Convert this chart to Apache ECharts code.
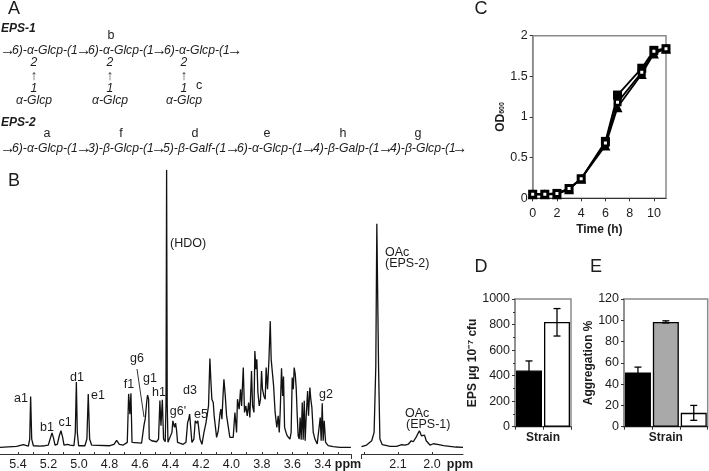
<!DOCTYPE html>
<html><head><meta charset="utf-8">
<style>html,body{margin:0;padding:0;background:#fff}#c{width:709px;height:471px}</style>
<script src="https://cdn.jsdelivr.net/npm/echarts@6/dist/echarts.min.js"></script>
</head><body><div id="c"></div>
<script>
// --- Panel A: repeating units
const eps1Units=['6)-α-Glcp-(1','6)-α-Glcp-(1','6)-α-Glcp-(1'];
const eps2Units=['6)-α-Glcp-(1','3)-β-Glcp-(1','5)-β-Galf-(1','6)-α-Glcp-(1','4)-β-Galp-(1','4)-β-Glcp-(1'];
// --- Panel B: 1H-NMR spectrum, ppm and relative intensity
const leftPpm=[5.518,5.409,5.365,5.332,5.323,5.317,5.310,5.299,5.256,5.223,5.201,5.186,5.177,5.168,5.157,5.142,5.129,5.118,5.107,5.098,5.087,5.074,5.059,5.033,5.024,5.017,5.011,5.002,4.961,4.948,4.939,4.930,4.917,4.797,4.770,4.753,4.735,4.709,4.683,4.674,4.666,4.659,4.652,4.644,4.589,4.574,4.565,4.561,4.556,4.550,4.543,4.539,4.523,4.491,4.478,4.469,4.462,4.453,4.445,4.434,4.429,4.425,4.421,4.416,4.403,4.390,4.384,4.379,4.373,4.366,4.360,4.353,4.316,4.298,4.287,4.281,4.274,4.268,4.259,4.246,4.237,4.228,4.220,4.206,4.193,4.180,4.167,4.158,4.150,4.141,4.135,4.128,4.119,4.113,4.097,4.086,4.075,4.069,4.062,4.056,4.049,4.040,4.032,4.010,3.999,3.988,3.977,3.970,3.966,3.960,3.949,3.940,3.933,3.922,3.914,3.905,3.896,3.887,3.879,3.868,3.861,3.852,3.846,3.839,3.833,3.826,3.817,3.809,3.802,3.796,3.787,3.778,3.772,3.763,3.754,3.745,3.739,3.730,3.723,3.713,3.702,3.693,3.686,3.680,3.671,3.664,3.658,3.651,3.642,3.634,3.616,3.608,3.601,3.594,3.588,3.581,3.575,3.568,3.562,3.555,3.549,3.542,3.535,3.529,3.522,3.516,3.509,3.500,3.494,3.485,3.479,3.472,3.463,3.452,3.437,3.424,3.417,3.411,3.404,3.398,3.391,3.382,3.365,3.332,3.288,3.216];
const leftIntensity=[6.7,7.7,9.3,8,15,57.7,15,8.3,8,8.3,9,16.7,21,16.7,9,9.7,18.3,23.3,16.7,9,9.7,9.7,9,8.3,21.7,72.3,21.7,8.3,8.3,15,60.3,15,9,8.3,9.7,13.7,9.7,9,11.7,60.3,40,61,11.7,10.3,11,28.3,35.7,37.7,51.7,59,55,15,13.3,12.3,15,53.7,28.3,54.3,15,12.3,50,285,50,11.7,11,21.7,33.3,35,26.7,31,24.3,11.7,9.7,11.7,31.7,34.3,40,40,11.7,15,33.3,31,33.3,15,9.7,21.7,31,29,48.3,95.7,75,55,51.7,38.3,16.7,23.3,40,45,35,55,75,58.3,39,16.7,15,16.7,41.7,41.7,21.7,55,45,65,48.3,86.7,41.7,48.3,38.3,51.7,36.7,83.3,48.3,41.7,103.3,85,95,61.7,48.3,55,83.3,65,58.3,55,86.7,65,93.3,133.3,95,96.7,68.3,41.7,26.7,38.3,21.7,41.7,86,58.3,77.7,26.7,21.7,18.3,15,21.7,76.7,65,86.7,80,66.7,38.3,18.3,15,36.7,14.3,51.7,14.3,53.3,13.3,38.3,63.3,38.3,66.7,55,46.7,21.7,15,10,11.7,36.7,13.3,51,13.3,33.3,11.7,8.3,7.3,6.7,6.7];
const rightPpm=[2.207,2.192,2.177,2.170,2.165,2.162,2.157,2.153,2.146,2.123,2.104,2.089,2.079,2.069,2.061,2.055,2.047,2.043,2.037,2.031,2.026,2.022,2.017,2.006,1.996,1.991,1.984,1.966,1.930,1.909];
const rightIntensity=[7.3,9,13.3,21.7,88.3,231,88.3,15,9.3,7.7,7.7,9.3,9,10,13.3,12.3,16.7,18.3,23.3,18.3,18.3,19,13.3,9,10.3,12.3,9.7,8.3,7,6.7];
const leftTicks=[5.4,5.2,5.0,4.8,4.6,4.4,4.2,4.0,3.8,3.6,3.4];
const rightTicks=[2.1,2.0];
// --- Panel C: growth curves
const hours=[0,1,2,3,4,6,7,9,10,11];
const odSquare=[0.05,0.05,0.06,0.12,0.24,0.70,1.27,1.60,1.82,1.84];
const odTriangle=[0.05,0.05,0.05,0.11,0.24,0.65,1.12,1.53,1.78,1.84];
const odOpen=[0.05,0.05,0.06,0.12,0.24,0.68,1.18,1.55,1.81,1.84];
// --- Panel D: EPS
const epsValues=[440,820];
const epsLow=[365,710];
const epsHigh=[515,925];
// --- Panel E: aggregation
const aggValues=[51,98.5,13];
const aggLow=[46,97.5,6];
const aggHigh=[56,99.5,20];

const DARK='#1c1c1c', GRAY='#8a8a8a', FONT='"Liberation Sans",Arial,sans-serif';
const T=(text,x,y,o={})=>({type:'text',x,y,silent:true,style:Object.assign({text,fill:DARK,font:`12.5px ${FONT}`,align:'center',verticalAlign:'middle'},o)});
const HL=(x1,y1,x2,y2,c=DARK,w=1)=>({type:'line',silent:true,shape:{x1,y1,x2,y2},style:{stroke:c,lineWidth:w}});

const chainFont=`italic 12.2px ${FONT}`, eps=`italic bold 12px ${FONT}`, arrowFont=`15.5px ${FONT}`;
const graphics=[
 T('A',14,9,{font:`18px ${FONT}`}),T('B',14,181,{font:`18px ${FONT}`}),T('C',481,9,{font:`18px ${FONT}`}),T('D',481,267,{font:`18px ${FONT}`}),T('E',596,267,{font:`18px ${FONT}`}),
 T('EPS-1',1,29,{font:eps,align:'left'}),T('EPS-2',1,123,{font:eps,align:'left'}),
 T('b',111,36),T('c',199,86),
 T('a',47,134),T('f',121,134),T('d',195,134),T('e',267,134),T('h',343,134),T('g',418,134)
];
const chain=(units,starts,arrows,y)=>{
 arrows.forEach(x=>graphics.push(T('→',x,y,{font:arrowFont,align:'left'})));
 units.forEach((u,i)=>graphics.push(T(u,starts[i],y,{font:chainFont,align:'left'})));
};
chain(eps1Units,[12,88,164],[0,76,151.5,227],51);
chain(eps2Units,[12,88,163,237,313,390],[0,76,151,225,301,378,452],149);
[34,110,184].forEach(x=>{graphics.push(
 T('2',x,63,{font:chainFont}),T('↑',x,76,{fill:'#444',font:`14px ${FONT}`}),T('1',x,89,{font:chainFont}),T('α-Glcp',x,101,{font:chainFont}));});
[['a1',21,399],['b1',47,428],['c1',65,423],['d1',77,378],['e1',98,396],['f1',129,385],['g6',137,359],['g1',150,379],['h1',159,393],['d3',190,391],["g6'",178,412],['e5',201,415],['g2',326,395]]
 .forEach(l=>graphics.push(T(l[0],l[1],l[2])));
graphics.push(HL(137,369,144,417,'#333',1),
 T('(HDO)',170,244,{align:'left'}),T('OAc',385,253,{align:'left'}),T('(EPS-2)',385,264,{align:'left'}),
 T('OAc',405,414,{align:'left'}),T('(EPS-1)',406,425,{align:'left'}),
 T('ppm',348,465,{font:`bold 12.5px ${FONT}`}),T('ppm',460,465,{font:`bold 12.5px ${FONT}`}),
 HL(351.5,455,351.5,459,'#333'),HL(361.5,455,361.5,459,'#333'));

const specAxis=(gi,min,max,labels,minor)=>({type:'value',gridIndex:gi,inverse:true,min,max,splitLine:{show:false},
 axisLine:{show:true,onZero:false,lineStyle:{color:'#333',width:1}},
 axisTick:{show:true,inside:true,length:2,customValues:minor,lineStyle:{color:'#333'}},
 axisLabel:{show:true,customValues:labels,formatter:v=>Number(v).toFixed(1),color:DARK,fontSize:12.5,fontFamily:FONT,margin:4,hideOverlap:false,showMinLabel:true,showMaxLabel:true}});
const hiddenY=(gi)=>({type:'value',gridIndex:gi,min:0,max:300,show:false});
const boxY=(gi,min,max,interval,name,nameGap,extra={})=>Object.assign({type:'value',gridIndex:gi,min,max,interval,name,nameLocation:'middle',nameGap,
 nameTextStyle:{color:DARK,fontWeight:'bold',fontSize:12,fontFamily:FONT},
 splitLine:{show:false},axisLine:{show:true,lineStyle:{color:GRAY,width:1.5}},axisTick:{show:true,length:3,lineStyle:{color:'#333'}},
 axisLabel:{color:DARK,fontSize:12.5,fontFamily:FONT,margin:5,formatter:v=>String(v)}},extra);
const boxX=(gi,cats)=>({type:'category',gridIndex:gi,data:cats,name:'Strain',nameLocation:'middle',nameGap:5,
 nameTextStyle:{color:DARK,fontWeight:'bold',fontSize:12,fontFamily:FONT,verticalAlign:'top'},
 axisLine:{lineStyle:{color:'#333',width:1}},axisTick:{show:true,alignWithLabel:false,length:3,lineStyle:{color:'#333'}},axisLabel:{show:false}});
const errBars=(xi,yi,low,high)=>({type:'custom',xAxisIndex:xi,yAxisIndex:yi,clip:false,z:5,silent:true,
 data:low.map((l,i)=>[i,l,high[i]]),encode:{x:0,y:[1,2]},
 renderItem:(p,api)=>{const a=api.coord([api.value(0),api.value(1)]),b=api.coord([api.value(0),api.value(2)]);const w=3.5,st={stroke:'#000',lineWidth:1.3};
  return {type:'group',children:[{type:'line',shape:{x1:a[0],y1:a[1],x2:b[0],y2:b[1]},style:st},{type:'line',shape:{x1:a[0]-w,y1:a[1],x2:a[0]+w,y2:a[1]},style:st},{type:'line',shape:{x1:b[0]-w,y1:b[1],x2:b[0]+w,y2:b[1]},style:st}]};}});
const zip=(a,b)=>a.map((v,i)=>[v,b[i]]);
const spec=(xi,x,y)=>({type:'line',xAxisIndex:xi,yAxisIndex:xi,data:zip(x,y),showSymbol:false,smooth:false,sampling:false,clip:false,lineStyle:{color:'#111',width:1.3}});
const od=(y,symbol,size,fill,z)=>({type:'line',xAxisIndex:2,yAxisIndex:2,data:zip(hours,y),symbol,symbolSize:size,clip:false,z,
 lineStyle:{color:'#000',width:1.8},itemStyle:{color:fill,borderColor:'#000',borderWidth:fill==='#fff'?2.5:0}});

const option={animation:false,backgroundColor:'#fff',graphic:graphics,
 grid:[
  {left:0,top:155,width:351.5,height:300},
  {left:361.5,top:155,width:101.5,height:300},
  {left:532.7,top:35.7,width:133.3,height:162.6,show:true,borderColor:GRAY,borderWidth:1.5},
  {left:515,top:299,width:56,height:127.7,show:true,borderColor:GRAY,borderWidth:1.5},
  {left:624,top:299,width:83.7,height:127.7,show:true,borderColor:GRAY,borderWidth:1.5}],
 xAxis:[
  specAxis(0,3.212,5.518,leftTicks,[5.4,5.3,5.2,5.1,5.0,4.9,4.8,4.7,4.6,4.5,4.4,4.3,4.2,4.1,4.0,3.9,3.8,3.7,3.6,3.5,3.4,3.3]),
  specAxis(1,1.909,2.207,rightTicks,[2.2,2.1,2.0]),
  {type:'value',gridIndex:2,min:0,max:11,interval:2,name:'Time (h)',nameLocation:'middle',nameGap:25,
   nameTextStyle:{color:DARK,fontWeight:'bold',fontSize:12,fontFamily:FONT},splitLine:{show:false},
   axisLine:{lineStyle:{color:'#333',width:1}},axisTick:{show:true,length:3,lineStyle:{color:'#333'}},axisLabel:{color:DARK,fontSize:12.5,fontFamily:FONT,margin:9}},
  boxX(3,['a','b']),boxX(4,['a','b','c'])],
 yAxis:[hiddenY(0),hiddenY(1),
  boxY(2,0,2,0.5,'{b|OD}{s|600}',19,{nameTextStyle:{rich:{b:{fontWeight:'bold',fontSize:12,fontFamily:FONT,color:DARK},s:{fontWeight:'bold',fontSize:7,fontFamily:FONT,color:DARK,padding:[0,0,-4,0]}}}}),
  boxY(3,0,1000,200,'EPS µg 10⁻⁷ cfu',22,{minorTick:{show:true,splitNumber:2,length:2,lineStyle:{color:'#333'}}}),
  boxY(4,0,120,20,'Aggregation %',22)],
 series:[
  spec(0,leftPpm,leftIntensity),spec(1,rightPpm,rightIntensity),
  od(odSquare,'rect',9,'#000',2),od(odTriangle,'triangle',10,'#000',3),od(odOpen,'rect',5.5,'#fff',4),
  {type:'bar',xAxisIndex:3,yAxisIndex:3,data:epsValues.map((v,i)=>({value:v,itemStyle:{color:i?'#fff':'#000',borderColor:'#000',borderWidth:1.3}})),barWidth:26},
  errBars(3,3,epsLow,epsHigh),
  {type:'bar',xAxisIndex:4,yAxisIndex:4,data:aggValues.map((v,i)=>({value:v,itemStyle:{color:['#000','#a9a9a9','#fff'][i],borderColor:'#000',borderWidth:1.3}})),barWidth:26},
  errBars(4,4,aggLow,aggHigh)]
};
echarts.init(document.getElementById('c'),null,{renderer:'canvas'}).setOption(option);
</script></body></html>
